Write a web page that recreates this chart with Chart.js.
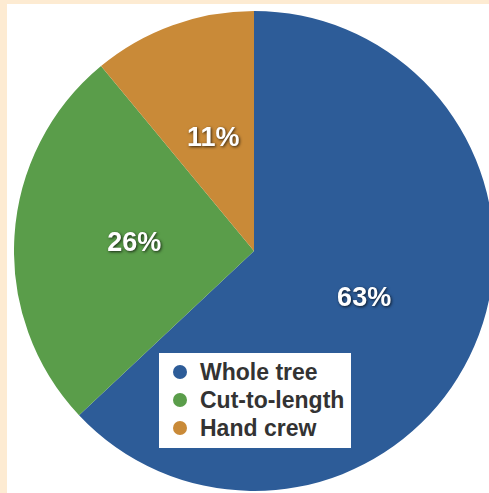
<!DOCTYPE html>
<html>
<head>
<meta charset="utf-8">
<script src="https://cdn.jsdelivr.net/npm/chart.js@4/dist/chart.umd.min.js"></script>
<style>
  html, body { margin: 0; padding: 0; overflow: hidden; width: 489px; height: 493px; background: #fdebd2; }
  #panel { position: absolute; left: 7px; top: 4px; width: 482px; height: 489px; background: #ffffff; overflow: hidden; }
  #wrap { position: absolute; left: 7px; top: 7px; width: 480px; height: 480px; }
  #legend { position: absolute; left: 159px; top: 353px; width: 192px; height: 95px; background: #ffffff;
            font-family: "Liberation Sans", Arial, sans-serif; font-weight: bold; font-size: 23px; color: #333333; }
  .row { position: absolute; left: 0; height: 28px; line-height: 28px; white-space: nowrap; }
  .dot { position: absolute; left: 14px; top: 7px; width: 14px; height: 14px; border-radius: 50%; }
  .txt { position: absolute; left: 41px; top: 0; }
</style>
</head>
<body>
<div id="panel"><div id="wrap"><canvas id="c"></canvas></div></div>
<div id="legend"></div>
<script>
const categories = ["Whole tree", "Cut-to-length", "Hand crew"];
const values = [63, 26, 11];
const colors = ["#2d5c98", "#5a9d4a", "#c98a38"];

const legend = document.getElementById('legend');
categories.forEach((name, i) => {
  const row = document.createElement('div');
  row.className = 'row';
  row.style.top = (5 + i * 28) + 'px';
  const dot = document.createElement('div');
  dot.className = 'dot';
  dot.style.background = colors[i];
  const t = document.createElement('span');
  t.className = 'txt';
  t.textContent = name;
  row.appendChild(dot); row.appendChild(t);
  legend.appendChild(row);
});

const labelPlugin = {
  id: 'pctLabels',
  afterDatasetsDraw(chart) {
    const ctx = chart.ctx;
    const meta = chart.getDatasetMeta(0);
    ctx.save();
    ctx.font = 'bold 27px "Liberation Sans", Arial, sans-serif';
    ctx.textAlign = 'center';
    ctx.textBaseline = 'middle';
    ctx.fillStyle = '#ffffff';
    ctx.shadowColor = 'rgba(0,0,0,0.75)';
    ctx.shadowBlur = 3;
    ctx.shadowOffsetX = 1;
    ctx.shadowOffsetY = 1;
    meta.data.forEach((arc, i) => {
      const p = arc.getProps(['x', 'y', 'startAngle', 'endAngle', 'outerRadius'], true);
      const mid = (p.startAngle + p.endAngle) / 2;
      const r = p.outerRadius * 0.5;
      ctx.fillText(values[i] + '%', p.x + Math.cos(mid) * r, p.y + Math.sin(mid) * r);
    });
    ctx.restore();
  }
};

new Chart(document.getElementById('c'), {
  type: 'pie',
  data: {
    labels: categories,
    datasets: [{ data: values, backgroundColor: colors, borderWidth: 0 }]
  },
  options: {
    responsive: true,
    maintainAspectRatio: false,
    animation: false,
    layout: { padding: 0 },
    plugins: { legend: { display: false }, tooltip: { enabled: false } }
  },
  plugins: [labelPlugin]
});
</script>
</body>
</html>
